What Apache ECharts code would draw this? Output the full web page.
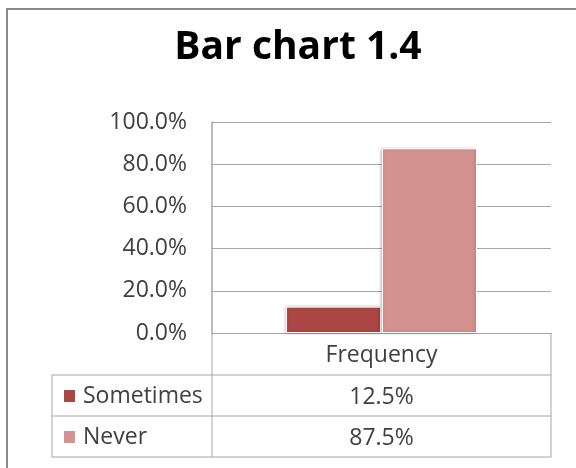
<!DOCTYPE html>
<html>
<head>
<meta charset="utf-8">
<script src="https://cdn.jsdelivr.net/npm/echarts@6/dist/echarts.min.js"></script>
<style>
html,body{margin:0;padding:0;background:#fff;}
#c{width:576px;height:468px;}
</style>
</head>
<body>
<div id="c"></div>
<script>
// Data
var categories = ['Frequency'];
var seriesNames = ['Sometimes', 'Never'];
var sometimesValues = [0.125];
var neverValues = [0.875];
var yTicks = [0, 0.2, 0.4, 0.6, 0.8, 1.0];
var seriesColors = ['#AA4643', '#D3918F'];

var FONT = "'Open Sans', 'Noto Sans', sans-serif";
var LINE = '#a6a6a6';
var TXT = '#404040';

function pct(v) { return (v * 100).toFixed(1) + '%'; }

var chart = echarts.init(document.getElementById('c'), null, {renderer: 'canvas'});

var gridL = 212, gridR = 551, gridT = 122, gridB = 333;
var row1 = 375, row2 = 416, row3 = 457, tableL = 52;

var option = {
  animation: false,
  backgroundColor: '#fff',
  title: {
    text: 'Bar chart 1.4',
    left: 293,
    textAlign: 'center',
    top: 23,
    textStyle: {fontFamily: FONT, fontWeight: 'bold', fontSize: 39, color: '#000'}
  },
  legend: {
    orient: 'vertical',
    left: 62,
    top: 384,
    padding: 0,
    itemWidth: 13,
    itemHeight: 14,
    itemGap: 17,
    icon: 'rect',
    selectedMode: false,
    data: seriesNames,
    textStyle: {fontFamily: FONT, fontSize: 23, color: TXT, lineHeight: 24, padding: [0, 0, 0, 2]}
  },
  grid: {left: gridL, right: 576 - gridR, top: gridT, bottom: 468 - gridB, containLabel: false},
  xAxis: {
    type: 'category',
    data: categories,
    axisLine: {show: true, lineStyle: {color: LINE, width: 1}},
    axisTick: {show: false},
    axisLabel: {fontFamily: FONT, fontSize: 23, color: TXT, margin: 10, lineHeight: 24}
  },
  yAxis: {
    type: 'value',
    min: 0,
    max: 1,
    interval: 0.2,
    axisLine: {show: true, lineStyle: {color: LINE, width: 1.5}},
    axisTick: {show: false},
    splitLine: {show: true, lineStyle: {color: LINE, width: 1}},
    axisLabel: {
      fontFamily: FONT, fontSize: 23, color: TXT, margin: 25,
      formatter: function (v) { return pct(v); }
    }
  },
  series: [
    {
      name: seriesNames[0], type: 'bar', data: sometimesValues,
      barWidth: 95, barGap: '1%',
      itemStyle: {color: seriesColors[0], borderColor: '#fff', borderWidth: 1,
        shadowBlur: 3, shadowColor: 'rgba(0,0,0,0.25)', shadowOffsetX: -1}
    },
    {
      name: seriesNames[1], type: 'bar', data: neverValues,
      barWidth: 95, barGap: '1%',
      itemStyle: {color: seriesColors[1], borderColor: '#fff', borderWidth: 1,
        shadowBlur: 3, shadowColor: 'rgba(0,0,0,0.25)', shadowOffsetX: -1}
    }
  ]
};
chart.setOption(option);

var cx = chart.convertToPixel({xAxisIndex: 0}, categories[0]);
var lineStyle = {stroke: LINE, lineWidth: 1};
var g = [
  {type: 'rect', shape: {x: 7, y: 9, width: 700, height: 600}, style: {fill: null, stroke: '#8a8a8a', lineWidth: 2}, silent: true},
  {type: 'line', shape: {x1: gridL, y1: gridB, x2: gridL, y2: row3}, style: lineStyle},
  {type: 'line', shape: {x1: gridR, y1: gridB, x2: gridR, y2: row3}, style: lineStyle},
  {type: 'line', shape: {x1: tableL, y1: row1, x2: gridR, y2: row1}, style: lineStyle},
  {type: 'line', shape: {x1: tableL, y1: row2, x2: gridR, y2: row2}, style: lineStyle},
  {type: 'line', shape: {x1: tableL, y1: row3, x2: gridR, y2: row3}, style: lineStyle},
  {type: 'line', shape: {x1: tableL, y1: row1, x2: tableL, y2: row3}, style: lineStyle},
  {type: 'text', style: {text: pct(sometimesValues[0]), x: cx, y: (row1 + row2) / 2 + 2, textAlign: 'center', textVerticalAlign: 'middle', font: '23px ' + FONT, fill: TXT}},
  {type: 'text', style: {text: pct(neverValues[0]), x: cx, y: (row2 + row3) / 2 + 2, textAlign: 'center', textVerticalAlign: 'middle', font: '23px ' + FONT, fill: TXT}}
];
chart.setOption({graphic: g});
</script>
</body>
</html>
